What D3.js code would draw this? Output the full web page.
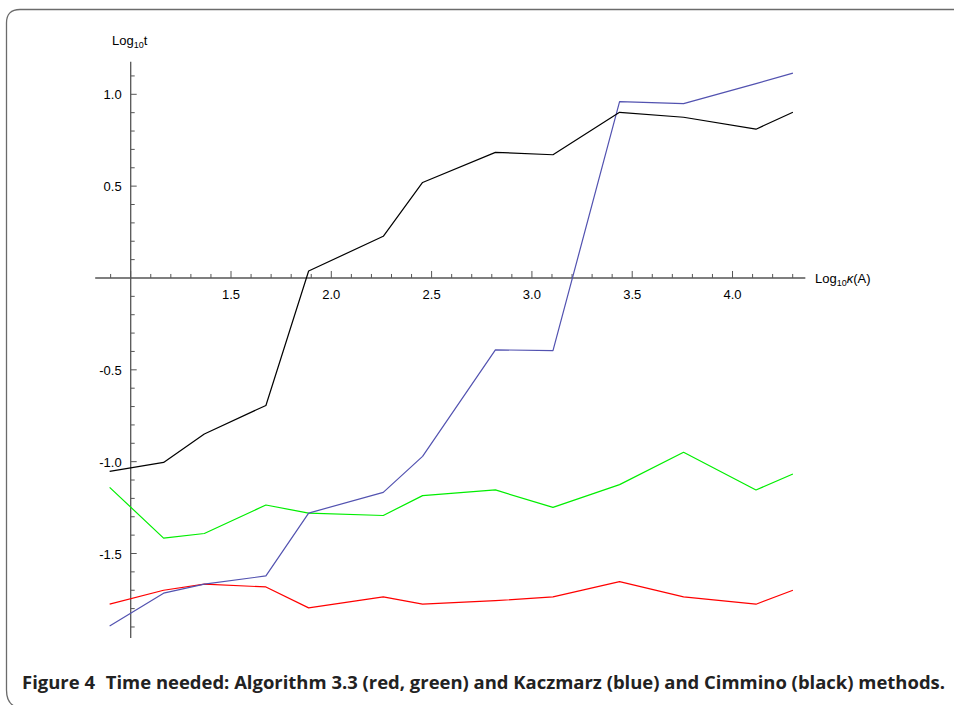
<!DOCTYPE html>
<html>
<head>
<meta charset="utf-8">
<script src="https://cdn.jsdelivr.net/npm/d3@7"></script>
<style>
  html, body { margin: 0; padding: 0; background: #fff; }
  svg { display: block; }
</style>
</head>
<body>
<svg id="chart" width="954" height="705"></svg>
<script>
// ---- data ----
const kappa = [0.895, 1.164, 1.367, 1.674, 1.887, 2.259, 2.455, 2.818, 3.105, 3.437, 3.756, 4.117, 4.301];
const cimminoBlack = [-1.053, -1.004, -0.849, -0.694, 0.038, 0.227, 0.520, 0.684, 0.671, 0.902, 0.875, 0.810, 0.902];
const kaczmarzBlue = [-1.895, -1.716, -1.667, -1.622, -1.280, -1.167, -0.971, -0.391, -0.396, 0.960, 0.949, 1.058, 1.115];
const algGreen = [-1.140, -1.416, -1.391, -1.236, -1.280, -1.293, -1.185, -1.154, -1.249, -1.125, -0.949, -1.154, -1.067];
const algRed = [-1.776, -1.700, -1.667, -1.682, -1.796, -1.736, -1.776, -1.757, -1.736, -1.653, -1.736, -1.776, -1.700];
const xTickValues = [1.5, 2.0, 2.5, 3.0, 3.5, 4.0];
const xTickLabels = ["1.5", "2.0", "2.5", "3.0", "3.5", "4.0"];
const yTickValues = [1.0, 0.5, -0.5, -1.0, -1.5];
const yTickLabels = ["1.0", "0.5", "-0.5", "-1.0", "-1.5"];
const caption = "Time needed: Algorithm 3.3 (red, green) and Kaczmarz (blue) and Cimmino (black) methods.";

const series = [
  { values: algRed, color: "#ff0000" },
  { values: algGreen, color: "#00ee00" },
  { values: kaczmarzBlue, color: "#5252b0" },
  { values: cimminoBlack, color: "#000000" }
];

const svg = d3.select("#chart");

// frame
svg.append("path")
  .attr("d", "M 960,9.5 H 20 Q 6.5,9.5 6.5,23 V 690 Q 6.5,702 14,706")
  .attr("fill", "none").attr("stroke", "#6b6b6b").attr("stroke-width", 1.3);

const x = d3.scaleLinear().domain([1.0, 4.3]).range([130.7, 792.7]);
const y = d3.scaleLinear().domain([-1.5, 1.0]).range([553.5, 94.3]);

const axisColor = "#555";
const fontFam = "'Liberation Sans', Arial, sans-serif";

// x axis line
svg.append("line")
  .attr("x1", x(0.823)).attr("x2", x(4.363))
  .attr("y1", y(0)).attr("y2", y(0))
  .attr("stroke", axisColor).attr("stroke-width", 1.3);

// y axis line
svg.append("line")
  .attr("x1", x(1.0)).attr("x2", x(1.0))
  .attr("y1", y(1.177)).attr("y2", y(-1.96))
  .attr("stroke", axisColor).attr("stroke-width", 1.3);

// x ticks
const xMinor = d3.range(9, 44).map(d => d / 10);
svg.append("g").selectAll("line").data(xMinor).join("line")
  .attr("x1", d => x(d)).attr("x2", d => x(d))
  .attr("y1", y(0))
  .attr("y2", d => y(0) - (Math.abs(d * 2 - Math.round(d * 2)) < 1e-6 ? 7 : 4))
  .attr("stroke", axisColor).attr("stroke-width", 1);

// y ticks
const yMinor = d3.range(-19, 12).map(d => d / 10).filter(d => Math.abs(d) > 1e-6);
svg.append("g").selectAll("line").data(yMinor).join("line")
  .attr("x1", x(1.0))
  .attr("x2", d => x(1.0) + (Math.abs(d * 2 - Math.round(d * 2)) < 1e-6 ? 6 : 4))
  .attr("y1", d => y(d)).attr("y2", d => y(d))
  .attr("stroke", axisColor).attr("stroke-width", 1);

// x tick labels
svg.append("g").selectAll("text").data(xTickValues).join("text")
  .attr("x", d => x(d)).attr("y", y(0) + 21)
  .attr("text-anchor", "middle")
  .attr("font-family", fontFam).attr("font-size", 13).attr("fill", "#000")
  .text((d, i) => xTickLabels[i]);

// y tick labels
svg.append("g").selectAll("text").data(yTickValues).join("text")
  .attr("x", x(1.0) - 9).attr("y", d => y(d) + 5)
  .attr("text-anchor", "end")
  .attr("font-family", fontFam).attr("font-size", 13).attr("fill", "#000")
  .text((d, i) => yTickLabels[i]);

// axis titles
const yt = svg.append("text").attr("x", 112).attr("y", 45)
  .attr("font-family", fontFam).attr("font-size", 13).attr("fill", "#000");
yt.append("tspan").text("Log");
yt.append("tspan").attr("font-size", 9).attr("dy", 3).text("10");
yt.append("tspan").attr("dy", -3).text("t");

const xt = svg.append("text").attr("x", 815).attr("y", y(0) + 5)
  .attr("font-family", fontFam).attr("font-size", 13).attr("fill", "#000");
xt.append("tspan").text("Log");
xt.append("tspan").attr("font-size", 9).attr("dy", 3).text("10");
xt.append("tspan").attr("dy", -3).attr("font-style", "italic").text("κ");
xt.append("tspan").text("(A)");

// lines
const line = d3.line().x((d, i) => x(kappa[i])).y(d => y(d));
svg.append("g").selectAll("path").data(series).join("path")
  .attr("d", s => line(s.values))
  .attr("fill", "none")
  .attr("stroke", s => s.color)
  .attr("stroke-width", 1.2)
  .attr("stroke-linejoin", "round");

// caption
const cap = svg.append("text").attr("x", 22).attr("y", 689)
  .attr("font-family", "'Open Sans', 'Noto Sans', sans-serif")
  .attr("font-weight", "bold").attr("font-size", 17).attr("fill", "#222")
  .attr("textLength", 923).attr("lengthAdjust", "spacingAndGlyphs");
cap.append("tspan").text("Figure 4");
cap.append("tspan").attr("dx", 10).text(caption);
</script>
</body>
</html>
